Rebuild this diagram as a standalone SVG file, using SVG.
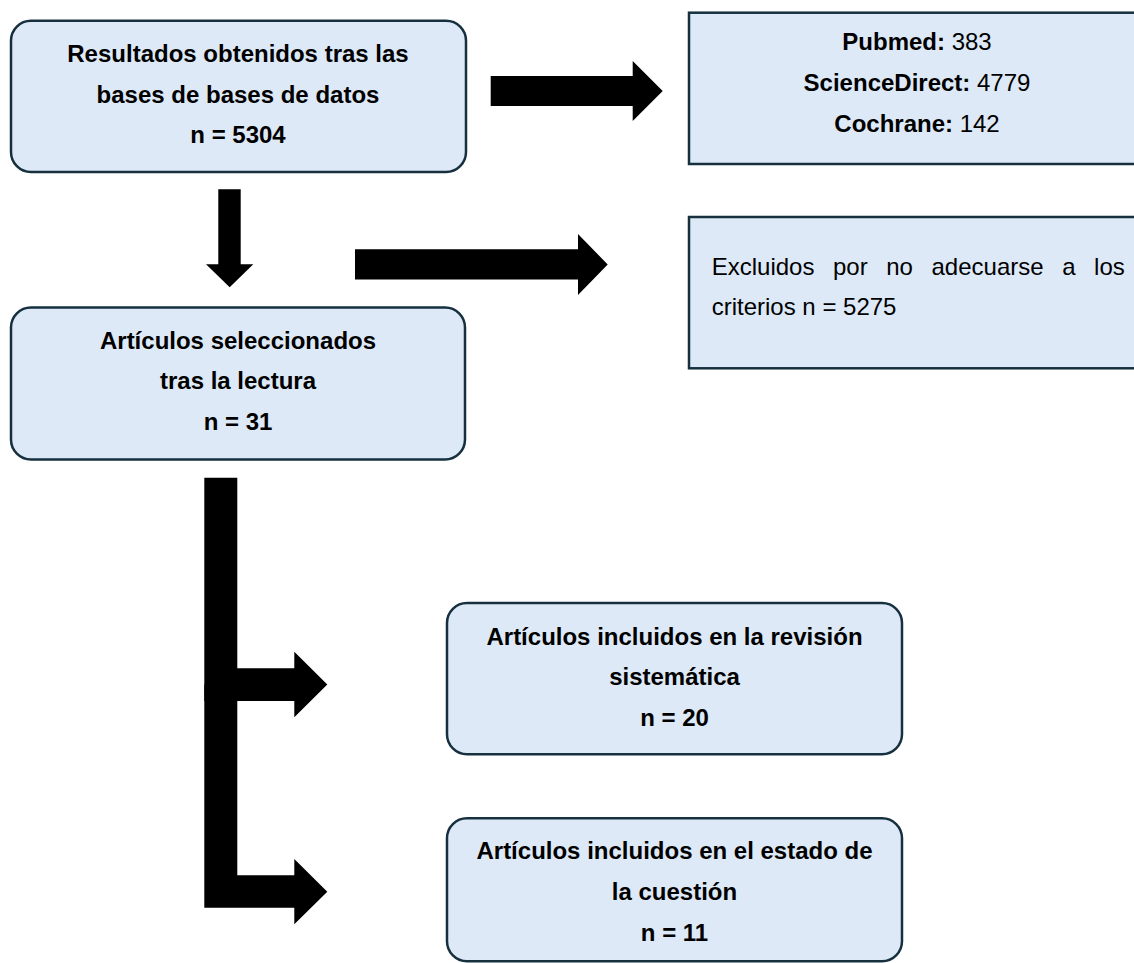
<svg xmlns="http://www.w3.org/2000/svg" width="1134" height="963" viewBox="0 0 1134 963">
<style>
.box{fill:#DDE9F6;stroke:#16303F;stroke-width:2.5}
.t{font-family:"Liberation Sans",Arial,sans-serif;font-size:24px;fill:#000}
.b{font-weight:bold}
.c{text-anchor:middle}
.arr{fill:#000;stroke:none}
</style>
<rect width="1134" height="963" fill="#fff"/>
<g id="connectors">
<polygon class="arr" points="490.7,76 632.7,76 632.7,61 662.7,91 632.7,121 632.7,106 490.7,106"/>
<polygon class="arr" points="355,249.3 578,249.3 578,234 607.7,264.5 578,295 578,279.5 355,279.5"/>
<polygon class="arr" points="218.3,189.3 240.7,189.3 240.7,264.3 253.3,264.3 229.7,287.3 206,264.3 218.3,264.3"/>
<polygon class="arr" points="204.3,477.7 237.3,477.7 237.3,668.3 294.3,668.3 294.3,651.7 327.3,684.5 294.3,717.3 294.3,701 237.3,701 204.3,701"/>
<polygon class="arr" points="204.3,684.5 237.3,684.5 237.3,875.3 294.3,875.3 294.3,859 327.3,891.7 294.3,924.3 294.3,907.7 204.3,907.7"/>
</g>
<g id="resultados">
<rect class="box" x="11" y="20.7" width="455" height="151.3" rx="20"/>
<text class="t b c" x="238" y="62">Resultados obtenidos tras las</text>
<text class="t b c" x="238" y="102.5">bases de bases de datos</text>
<text class="t b c" x="238" y="143">n = 5304</text>
</g>
<g id="bases">
<rect class="box" x="689" y="12.7" width="470" height="151.3"/>
<text class="t c" x="917" y="49.5"><tspan class="b">Pubmed:</tspan> 383</text>
<text class="t c" x="917" y="90.5"><tspan class="b">ScienceDirect:</tspan> 4779</text>
<text class="t c" x="917" y="132"><tspan class="b">Cochrane:</tspan> 142</text>
</g>
<g id="excluidos">
<rect class="box" x="689" y="217" width="470" height="151.3"/>
<text class="t" x="711.7" y="275" word-spacing="11.9">Excluidos por no adecuarse a los</text>
<text class="t" x="711.7" y="315">criterios n = 5275</text>
</g>
<g id="seleccionados">
<rect class="box" x="11" y="307.5" width="454" height="152" rx="20"/>
<text class="t b c" x="238" y="348.5">Artículos seleccionados</text>
<text class="t b c" x="238" y="389">tras la lectura</text>
<text class="t b c" x="238" y="430">n = 31</text>
</g>
<g id="revision">
<rect class="box" x="447" y="603" width="455" height="151.3" rx="20"/>
<text class="t b c" x="674.5" y="644.5">Artículos incluidos en la revisión</text>
<text class="t b c" x="674.5" y="685">sistemática</text>
<text class="t b c" x="674.5" y="725.5">n = 20</text>
</g>
<g id="estado">
<rect class="box" x="447" y="818.3" width="455" height="143" rx="20"/>
<text class="t b c" x="674.5" y="859.3">Artículos incluidos en el estado de</text>
<text class="t b c" x="674.5" y="900">la cuestión</text>
<text class="t b c" x="674.5" y="940.8">n = 11</text>
</g>
</svg>
